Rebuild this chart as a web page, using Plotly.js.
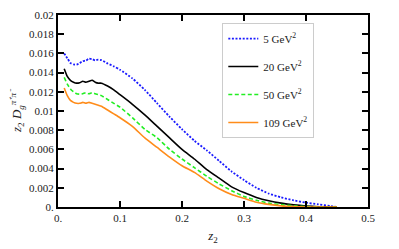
<!DOCTYPE html>
<html>
<head>
<meta charset="utf-8">
<script src="https://cdn.plot.ly/plotly-3.0.1.min.js"></script>
<style>html,body{margin:0;padding:0;background:#fff;}#chart{width:399px;height:249px;}</style>
</head>
<body>
<div id="chart"></div>
<script>
const z2 = [0.01,0.015,0.02,0.025,0.03,0.035,0.04,0.045,0.05,0.055,0.06,0.065,0.07,0.08,0.09,0.10,0.12,0.14,0.16,0.18,0.20,0.22,0.24,0.26,0.28,0.30,0.32,0.34,0.36,0.38,0.40,0.42,0.44,0.45];

const q5 = [0.0160,0.0155,0.0150,0.01485,0.01483,0.0150,0.0152,0.01525,0.01545,0.0154,0.01528,0.01535,0.0153,0.01495,0.01465,0.0143,0.0134,0.0122,0.0108,0.0094,0.0081,0.0069,0.0059,0.0048,0.0037,0.0028,0.0020,0.0014,0.0010,0.0007,0.00045,0.00027,0.0001,0];
const q20 = [0.0144,0.0136,0.0132,0.0130,0.0129,0.01295,0.0131,0.0130,0.0131,0.0132,0.0130,0.0129,0.0129,0.0126,0.0122,0.0117,0.0107,0.0096,0.0084,0.0072,0.0060,0.0050,0.0039,0.0030,0.0021,0.0015,0.0010,0.00065,0.0004,0.00022,0.0001,0.00003,0,0];
const q50 = [0.0135,0.0128,0.0123,0.0120,0.0118,0.01175,0.0118,0.0119,0.0118,0.0119,0.0118,0.0117,0.0116,0.0112,0.0108,0.0104,0.0093,0.0081,0.0072,0.0060,0.0050,0.0041,0.0032,0.0024,0.0017,0.0011,0.0007,0.0004,0.00025,0.00012,0.00005,0,0,0];
const q109 = [0.0124,0.0116,0.0111,0.0109,0.0108,0.0108,0.0109,0.0108,0.0109,0.0108,0.0107,0.0106,0.0105,0.0101,0.0097,0.0093,0.0084,0.0072,0.0062,0.0052,0.0043,0.0036,0.0027,0.0019,0.0013,0.0009,0.0005,0.00027,0.00012,0.00004,0,0,0,0];

const seriesNames = ["5 GeV<sup>2</sup>","20 GeV<sup>2</sup>","50 GeV<sup>2</sup>","109 GeV<sup>2</sup>"];
const xTickVals = [0,0.1,0.2,0.3,0.4,0.5];
const xTickText = ["0.","0.1","0.2","0.3","0.4","0.5"];
const yTickVals = [0,0.002,0.004,0.006,0.008,0.01,0.012,0.014,0.016,0.018,0.02];
const yTickText = ["0.","0.002","0.004","0.006","0.008","0.01","0.012","0.014","0.016","0.018","0.02"];

const styles = [
  {color:"#1a1aff", dash:"2px,1.6px", width:1.8},
  {color:"#000000", dash:"solid", width:1.6},
  {color:"#22ee22", dash:"4px,2.5px", width:1.6},
  {color:"#ff8c1a", dash:"solid", width:1.6}
];
const ys = [q5,q20,q50,q109];
const traces = ys.map((y,i)=>({
  x: z2, y: y, type:"scatter", mode:"lines", name: seriesNames[i],
  legendgroup: "g"+i,
  line: {color: styles[i].color, dash: styles[i].dash, width: styles[i].width, shape:"spline", smoothing:0.5}
}));

const fam = "Liberation Serif, Times New Roman, serif";
const layout = {
  width:399, height:249,
  margin:{l:58, r:31, t:15, b:42},
  paper_bgcolor:"#fff", plot_bgcolor:"#fff",
  font: {family:fam, size:11, color:"#222"},
  showlegend:true,
  legend:{x:0.53, y:0.958, xanchor:"left", yanchor:"top", bgcolor:"#fff",
          bordercolor:"#cccccc", borderwidth:1, traceorder:"grouped", tracegroupgap:9,
          font:{family:fam, size:11, color:"#222"}},
  xaxis:{range:[0,0.5], tickvals:xTickVals, ticktext:xTickText, ticks:"inside", ticklen:6, tickwidth:2,
         tickcolor:"#000", showline:true, linecolor:"#000", linewidth:2, mirror:"ticks",
         showgrid:false, zeroline:false, tickfont:{family:fam,size:11,color:"#222"},
         title:{text:"<i>z</i><sub>2</sub>", font:{family:fam,size:13,color:"#222"}, standoff:8}},
  yaxis:{range:[0,0.02], tickvals:yTickVals, ticktext:yTickText, ticks:"inside", ticklen:6, tickwidth:2,
         tickcolor:"#000", showline:true, linecolor:"#000", linewidth:2, mirror:"ticks",
         showgrid:false, zeroline:false, tickfont:{family:fam,size:11,color:"#222"},
         title:{text:"<i>z</i><sub>2</sub> <i>D</i><sub><i>g</i></sub><sup><i>π⁺π⁻</i></sup>", font:{family:fam,size:13,color:"#222"}, standoff:4}}
};
Plotly.newPlot("chart", traces, layout, {staticPlot:true, displayModeBar:false});
</script>
</body>
</html>
